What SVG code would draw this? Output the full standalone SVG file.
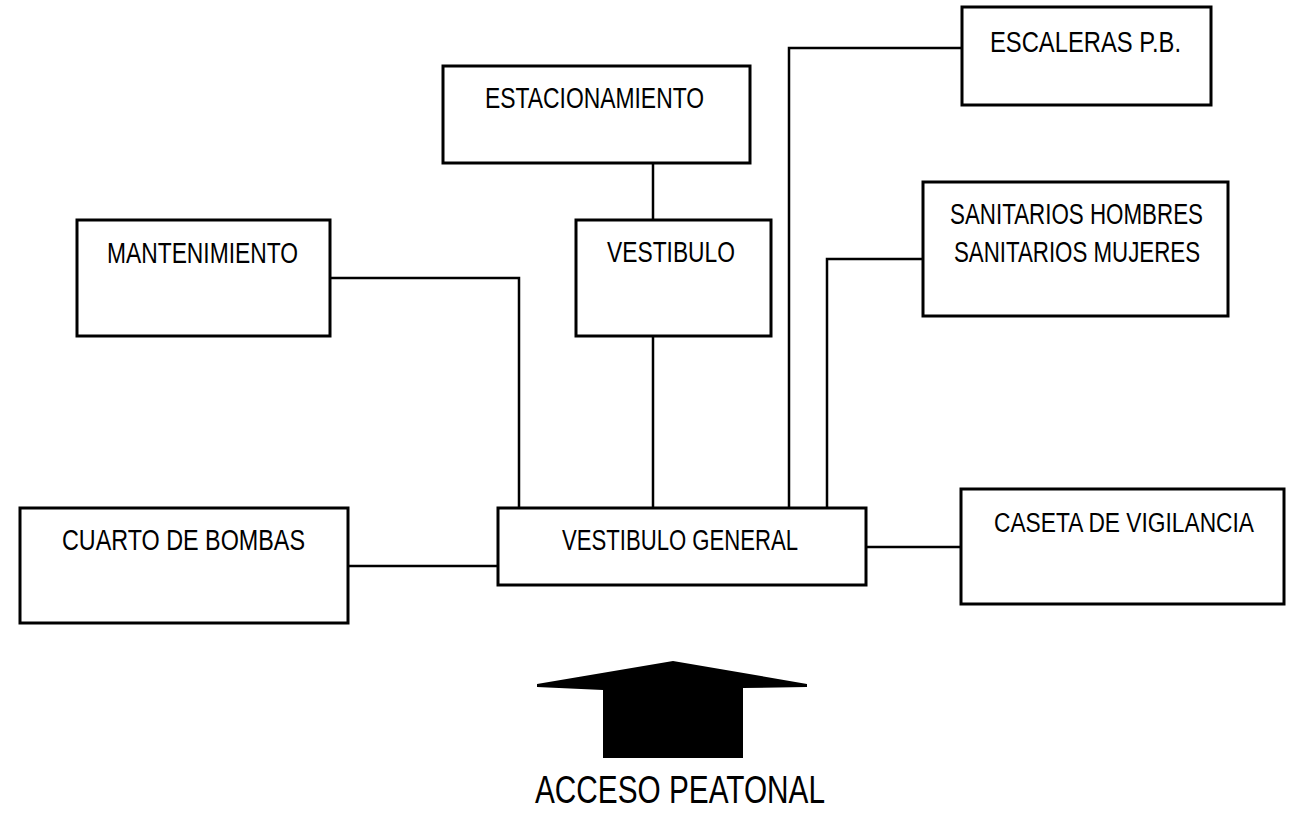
<svg xmlns="http://www.w3.org/2000/svg" width="1298" height="813" viewBox="0 0 1298 813">
<style>
.box{fill:#fff;stroke:#000;stroke-width:3}
.lbl{font-family:"Liberation Sans",Arial,sans-serif;font-size:30px;fill:#000}
.con{fill:none;stroke:#000;stroke-width:2.5}
</style>
<rect width="1298" height="813" fill="#fff"/>
<g id="connectors">
<polyline class="con" points="330,278 519,278 519,508"/>
<polyline class="con" points="653,163 653,220"/>
<polyline class="con" points="653,336 653,508"/>
<polyline class="con" points="962,48 789,48 789,508"/>
<polyline class="con" points="923,259 827,259 827,508"/>
<polyline class="con" points="348,566 498,566"/>
<polyline class="con" points="866,547 961,547"/>
</g>
<g id="estacionamiento">
<rect class="box" x="443" y="66" width="307" height="97"/>
<text class="lbl" x="485" y="108" textLength="219" lengthAdjust="spacingAndGlyphs">ESTACIONAMIENTO</text>
</g>
<g id="escaleras">
<rect class="box" x="962" y="7" width="249" height="98"/>
<text class="lbl" x="990" y="52" textLength="191" lengthAdjust="spacingAndGlyphs">ESCALERAS P.B.</text>
</g>
<g id="mantenimiento">
<rect class="box" x="77" y="220" width="253" height="116"/>
<text class="lbl" x="107" y="263" textLength="191" lengthAdjust="spacingAndGlyphs">MANTENIMIENTO</text>
</g>
<g id="vestibulo">
<rect class="box" x="576" y="220" width="195" height="116"/>
<text class="lbl" x="607" y="262" textLength="128" lengthAdjust="spacingAndGlyphs">VESTIBULO</text>
</g>
<g id="sanitarios">
<rect class="box" x="923" y="182" width="305" height="134"/>
<text class="lbl" x="950" y="224" textLength="253" lengthAdjust="spacingAndGlyphs">SANITARIOS HOMBRES</text>
<text class="lbl" x="954" y="262" textLength="246" lengthAdjust="spacingAndGlyphs">SANITARIOS MUJERES</text>
</g>
<g id="cuarto-bombas">
<rect class="box" x="20" y="508" width="328" height="115"/>
<text class="lbl" x="62" y="550" textLength="243" lengthAdjust="spacingAndGlyphs">CUARTO DE BOMBAS</text>
</g>
<g id="vestibulo-general">
<rect class="box" x="498" y="508" width="368" height="77"/>
<text class="lbl" x="562" y="550" textLength="236" lengthAdjust="spacingAndGlyphs">VESTIBULO GENERAL</text>
</g>
<g id="caseta">
<rect class="box" x="961" y="489" width="323" height="115"/>
<text class="lbl" x="994" y="532" style="font-size:27px" textLength="260" lengthAdjust="spacingAndGlyphs">CASETA DE VIGILANCIA</text>
</g>
<g id="acceso">
<polygon points="537,684 673,661 807,684 807,687 743,688 743,758 603,758 603,690 537,687" fill="#000"/>
<text class="lbl" x="535" y="803" style="font-size:38px" textLength="290" lengthAdjust="spacingAndGlyphs">ACCESO PEATONAL</text>
</g>
</svg>
